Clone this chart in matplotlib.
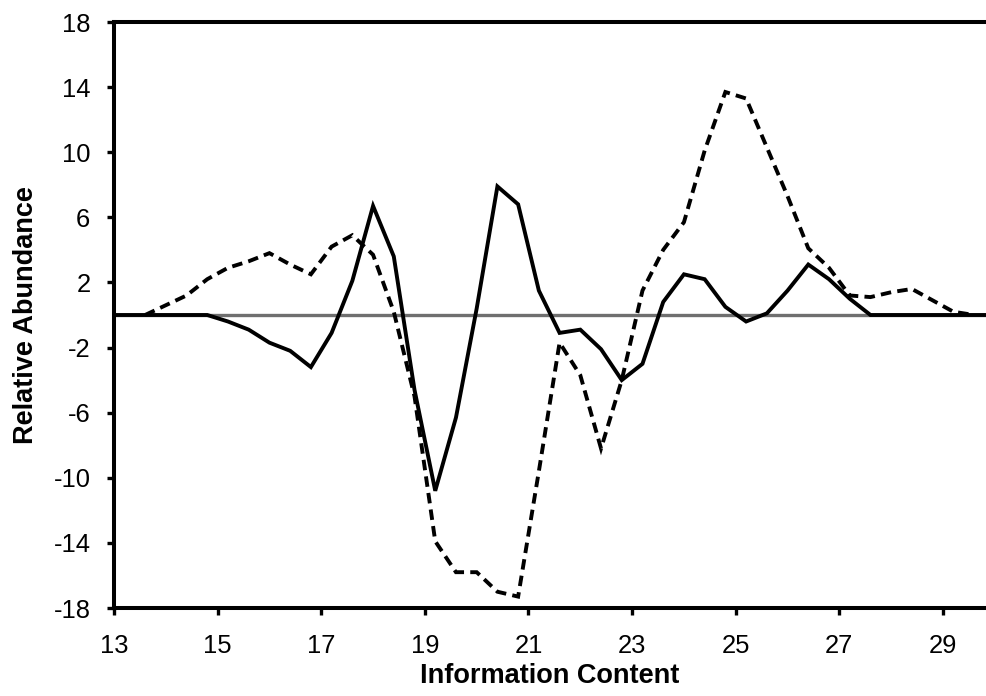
import matplotlib
matplotlib.use("Agg")
import matplotlib.pyplot as plt
import numpy as np

plt.rcParams['font.family'] = ['Liberation Sans', 'DejaVu Sans']
plt.rcParams['axes.unicode_minus'] = False

# Information content bins
info_content = [12.8, 13.2, 13.6, 14.0, 14.4, 14.8, 15.2, 15.6, 16.0, 16.4, 16.8,
                17.2, 17.6, 18.0, 18.4, 18.8, 19.2, 19.6, 20.0, 20.4, 20.8, 21.2,
                21.6, 22.0, 22.4, 22.8, 23.2, 23.6, 24.0, 24.4, 24.8, 25.2, 25.6,
                26.0, 26.4, 26.8, 27.2, 27.6, 28.0, 28.4, 28.8, 29.2, 29.6, 30.0]

# Relative abundance, solid series
solid_series = [0, 0, 0, 0, 0, 0, -0.4, -0.9, -1.7, -2.2, -3.2,
                -1.1, 2.1, 6.7, 3.6, -4.6, -10.8, -6.3, 0.4, 7.9, 6.8, 1.5,
                -1.1, -0.9, -2.1, -4.0, -3.0, 0.8, 2.5, 2.2, 0.5, -0.4, 0.1,
                1.5, 3.1, 2.2, 1.0, 0, 0, 0, 0, 0, 0, 0]

# Relative abundance, dashed series (starts at 13.6, ends at 29.6)
dashed_series = [np.nan, np.nan, 0, 0.6, 1.2, 2.2, 2.9, 3.3, 3.8, 3.1, 2.5,
                 4.2, 4.9, 3.7, 0.2, -5.0, -13.9, -15.8, -15.8, -17.0, -17.3, -9.6,
                 -1.7, -3.7, -8.2, -4.0, 1.5, 4.0, 5.7, 10.1, 13.7, 13.3, 10.3,
                 7.3, 4.1, 2.9, 1.2, 1.1, 1.4, 1.6, 0.9, 0.2, 0, np.nan]

x_ticks = [13, 15, 17, 19, 21, 23, 25, 27, 29]
y_ticks = [-18, -14, -10, -6, -2, 2, 6, 10, 14, 18]

fig = plt.figure(figsize=(9.86, 6.96), dpi=100)
ax = fig.add_axes([114 / 986, 88 / 696, 1 - 114 / 986, (608 - 22) / 696])

ax.axhline(0, color='#6f6f6f', lw=2.4, zorder=1)
ax.plot(info_content, solid_series, color='black', lw=2.8, solid_joinstyle='miter', zorder=3)
ax.plot(info_content, dashed_series, color='black', lw=2.8, linestyle=(0, (2.7, 1.6)),
        dash_joinstyle='miter', zorder=2)

ax.set_xlim(13, 29.83)
ax.set_ylim(-18, 18)
ax.set_xticks(x_ticks)
ax.set_yticks(y_ticks)

for side in ('left', 'bottom', 'top'):
    ax.spines[side].set_linewidth(2.9)
ax.spines['right'].set_visible(False)

ax.tick_params(axis='both', direction='out', length=5, width=2.4, labelsize=18.4)
ax.tick_params(axis='y', pad=12)
ax.tick_params(axis='x', pad=14)

ax.set_xlabel('Information Content', fontsize=19.5, fontweight='bold', labelpad=3)
ax.set_ylabel('Relative Abundance', fontsize=19.5, fontweight='bold', labelpad=10)

fig.savefig('out.png', dpi=100)
